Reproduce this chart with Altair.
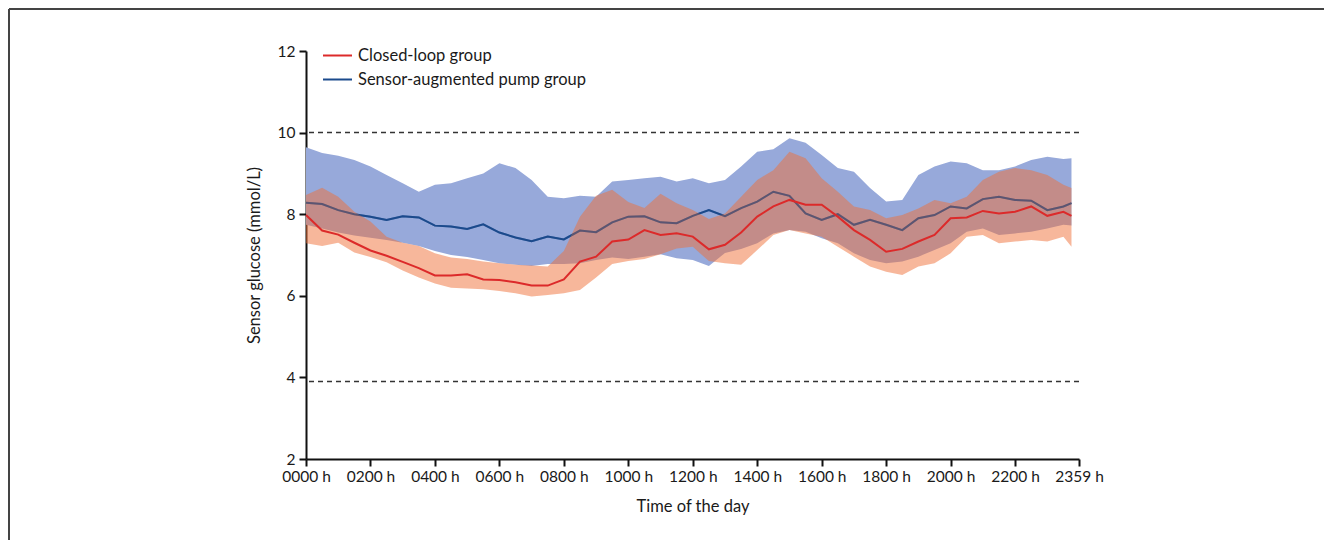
import altair as alt
import pandas as pd

# time of day in minutes
times = [i * 30 for i in range(48)] + [1425]

cl_mean = [7.98, 7.60, 7.50, 7.30, 7.11, 6.98, 6.83, 6.68, 6.50, 6.50,
           6.53, 6.40, 6.39, 6.33, 6.25, 6.25, 6.40, 6.84, 6.96, 7.33,
           7.38, 7.61, 7.49, 7.53, 7.45, 7.14, 7.25, 7.55, 7.94, 8.19,
           8.35, 8.23, 8.23, 7.94, 7.61, 7.37, 7.08, 7.15, 7.33, 7.49,
           7.90, 7.92, 8.08, 8.02, 8.06, 8.19, 7.96, 8.06, 7.96]
cl_upper = [8.47, 8.65, 8.43, 8.06, 7.82, 7.45, 7.30, 7.22, 7.04, 6.94,
            6.90, 6.84, 6.80, 6.76, 6.74, 6.72, 7.10, 7.94, 8.45, 8.60,
            8.30, 8.15, 8.50, 8.27, 8.10, 7.88, 8.02, 8.43, 8.84, 9.08,
            9.53, 9.37, 8.88, 8.55, 8.19, 8.10, 7.90, 7.98, 8.14, 8.35,
            8.27, 8.43, 8.84, 9.04, 9.13, 9.08, 8.96, 8.72, 8.64]
cl_lower = [7.29, 7.22, 7.30, 7.06, 6.95, 6.82, 6.62, 6.45, 6.30, 6.20,
            6.18, 6.16, 6.12, 6.06, 5.98, 6.02, 6.06, 6.14, 6.45, 6.78,
            6.85, 6.90, 7.02, 7.16, 7.20, 6.85, 6.80, 6.76, 7.12, 7.49,
            7.61, 7.53, 7.45, 7.20, 6.96, 6.72, 6.59, 6.51, 6.72, 6.80,
            7.04, 7.45, 7.49, 7.29, 7.33, 7.37, 7.33, 7.45, 7.20]

sap_mean = [8.28, 8.25, 8.10, 8.00, 7.94, 7.86, 7.95, 7.92, 7.72, 7.70,
            7.64, 7.75, 7.55, 7.43, 7.34, 7.45, 7.38, 7.60, 7.56, 7.80,
            7.94, 7.95, 7.80, 7.78, 7.96, 8.10, 7.95, 8.15, 8.31, 8.55,
            8.45, 8.02, 7.86, 8.00, 7.74, 7.86, 7.74, 7.61, 7.90, 7.98,
            8.19, 8.14, 8.37, 8.43, 8.35, 8.33, 8.10, 8.19, 8.27]
sap_upper = [9.64, 9.50, 9.43, 9.33, 9.17, 8.96, 8.76, 8.55, 8.72, 8.76,
             8.88, 9.00, 9.25, 9.13, 8.84, 8.43, 8.39, 8.45, 8.43, 8.80,
             8.84, 8.88, 8.92, 8.80, 8.88, 8.76, 8.84, 9.17, 9.53, 9.59,
             9.86, 9.75, 9.45, 9.13, 9.04, 8.64, 8.31, 8.35, 8.96, 9.17,
             9.29, 9.25, 9.08, 9.08, 9.17, 9.33, 9.41, 9.35, 9.37]
sap_lower = [7.74, 7.65, 7.55, 7.48, 7.42, 7.37, 7.30, 7.22, 7.10, 7.00,
             6.95, 6.88, 6.80, 6.76, 6.73, 6.78, 6.78, 6.80, 6.88, 6.94,
             6.90, 6.96, 7.02, 6.92, 6.88, 6.73, 7.05, 7.15, 7.29, 7.53,
             7.61, 7.57, 7.41, 7.29, 7.04, 6.88, 6.80, 6.84, 6.96, 7.12,
             7.29, 7.57, 7.65, 7.49, 7.53, 7.57, 7.65, 7.74, 7.72]

series_names = ["Closed-loop group", "Sensor-augmented pump group"]
line_colors = ["#dc2a2a", "#1b4a8c"]
band_colors = {"Closed-loop group": "#ef6f37", "Sensor-augmented pump group": "#97a9da"}

ref_levels = [10.0, 3.9]
tick_values = [0, 120, 240, 360, 480, 600, 720, 840, 960, 1080, 1200, 1320, 1439]
tick_labels = ["0000 h", "0200 h", "0400 h", "0600 h", "0800 h", "1000 h", "1200 h",
               "1400 h", "1600 h", "1800 h", "2000 h", "2200 h", "2359 h"]
y_ticks = [2, 4, 6, 8, 10, 12]

FONT = "Lato"
FS = 16.5
TICK_FS = 15.5
TXT = "#1a1a1a"

cl = pd.DataFrame({"t": times, "mean": cl_mean, "lo": cl_lower, "hi": cl_upper,
                   "group": series_names[0]})
sap = pd.DataFrame({"t": times, "mean": sap_mean, "lo": sap_lower, "hi": sap_upper,
                    "group": series_names[1]})

label_expr = ""
for v, lab in zip(tick_values, tick_labels):
    label_expr += f"datum.value == {v} ? '{lab}' : "
label_expr += "''"

x_enc = alt.X("t:Q", scale=alt.Scale(domain=[0, 1439], nice=False, zero=False),
              axis=alt.Axis(values=tick_values, labelExpr=label_expr, title="Time of the day",
                            grid=False, titlePadding=14, labelPadding=3,
                            labelOverlap=False, labelFlush=False))
y_scale = alt.Scale(domain=[2, 12], nice=False, zero=False)
y_axis = alt.Axis(values=y_ticks, grid=False, title="Sensor glucose (mmol/L)",
                  titlePadding=15, labelPadding=4)

sap_band = alt.Chart(sap).mark_area(color=band_colors[series_names[1]], opacity=1).encode(
    x=x_enc, y=alt.Y("lo:Q", scale=y_scale, axis=y_axis), y2="hi:Q")
cl_band = alt.Chart(cl).mark_area(color=band_colors[series_names[0]], opacity=0.5).encode(
    x=alt.X("t:Q"), y=alt.Y("lo:Q"), y2="hi:Q")

color_scale = alt.Scale(domain=series_names, range=line_colors)
legend = alt.Legend(orient="none", legendX=16, legendY=-11, title=None,
                    symbolType="stroke", symbolStrokeWidth=2, symbolSize=841,
                    labelFontSize=FS, labelFont=FONT, labelColor=TXT, labelLimit=0,
                    rowPadding=-15, labelOffset=5)

sap_line = alt.Chart(sap).mark_line(strokeWidth=2).encode(
    x="t:Q", y="mean:Q",
    color=alt.Color("group:N", scale=color_scale, legend=legend))
sap_tint = alt.Chart(sap).mark_line(strokeWidth=2, color=line_colors[1], opacity=0.4).encode(
    x="t:Q", y="mean:Q")
cl_line = alt.Chart(cl).mark_line(strokeWidth=2).encode(
    x="t:Q", y="mean:Q",
    color=alt.Color("group:N", scale=color_scale, legend=legend))

ref = pd.DataFrame({"v": ref_levels})
ref_rules = alt.Chart(ref).mark_rule(color="#333", strokeDash=[5, 4], strokeWidth=1.5).encode(
    y="v:Q")

frame_df = pd.DataFrame({"k": [0]})
frame_left = alt.Chart(frame_df).mark_rule(color="#444", strokeWidth=2).encode(
    x=alt.value(-297), y=alt.value(-42), y2=alt.value(600))
frame_top = alt.Chart(frame_df).mark_rule(color="#444", strokeWidth=2).encode(
    x=alt.value(-297), x2=alt.value(1200), y=alt.value(-42))

chart = alt.layer(sap_band, sap_line, cl_band, sap_tint, cl_line, ref_rules,
                  frame_left, frame_top).properties(
    width=773, height=408,
    autosize=alt.AutoSizeParams(type="none"),
    padding={"left": 298, "top": 43, "right": 245, "bottom": 81},
).configure_view(stroke=None).configure_axis(
    domainColor="#111", domainWidth=2, tickColor="#111", tickWidth=2, tickSize=7,
    labelFont=FONT, labelFontSize=TICK_FS, labelColor=TXT,
    titleFont=FONT, titleFontSize=FS, titleFontWeight="normal", titleColor=TXT,
)

chart.save("out.html", embed_options={"renderer": "svg", "actions": False})
